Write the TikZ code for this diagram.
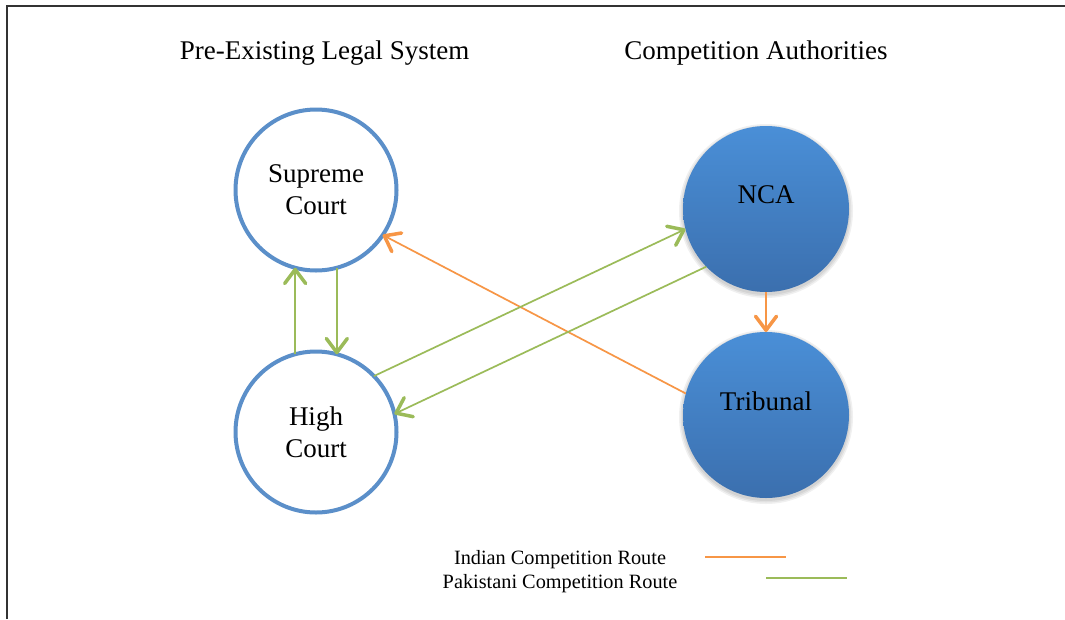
\documentclass[tikz,border=0pt]{standalone}
\usepackage{fontspec}
\setmainfont{Liberation Serif}
\usetikzlibrary{arrows.meta}
\definecolor{ringblue}{HTML}{5B8FC9}
\definecolor{fillhi}{HTML}{4A8FD7}
\definecolor{filllo}{HTML}{3B6FAE}
\definecolor{orangeroute}{HTML}{F79646}
\definecolor{greenroute}{HTML}{9BBB59}
\definecolor{framegray}{HTML}{333333}
\tikzset{
  ring/.style={circle, draw=ringblue, line width=4pt, fill=white, minimum size=161pt, inner sep=0pt, outer sep=0pt, align=center, font=\fontsize{27}{32}\selectfont},
  ball/.style={circle, draw=none, top color=fillhi, bottom color=filllo, minimum size=166pt, inner sep=0pt, outer sep=0pt, align=center, font=\fontsize{27}{32}\selectfont},
  halo/.style={fill=black, opacity=0.06},
  heading/.style={font=\fontsize{27}{32}\selectfont, inner sep=0pt},
  legendtext/.style={font=\fontsize{20.3}{24}\selectfont, inner sep=0pt},
  barb/.style={-{Straight Barb[length=14pt, width=21pt, line width=3.5pt, round]}},
  greenthick/.style={draw=greenroute, line width=2.3pt, barb},
  greenthin/.style={draw=greenroute, line width=1.7pt, barb},
  orangethick/.style={draw=orangeroute, line width=2.3pt, barb},
  orangethin/.style={draw=orangeroute, line width=1.7pt, barb},
  legendline/.style={line width=2pt}
}
\begin{document}
\begin{tikzpicture}[x=1pt,y=-1pt]
\useasboundingbox (0,0) rectangle (1065,619);
\fill[white] (0,0) rectangle (1065,619);
\draw[framegray, line width=2pt] (7,619) -- (7,6) -- (1065,6);

\node[heading] (h1) at (324.5,53) {Pre-Existing Legal System};
\node[heading] (h2) at (756,53) {Competition Authorities};

% soft shadows behind the filled circles
\foreach \c in {209,415}{
  \foreach \r in {84,85.5,87}{
    \fill[halo] (766,\c+2) circle[radius=\r];
  }
}

\node[ring] (sc) at (316,190) {Supreme\\Court};
\node[ring] (hc) at (316,432) {High\\Court};
\node[ball] (nca) at (766,209) {\raisebox{28pt}{NCA}};
\node[ball] (tr) at (766,415) {\raisebox{28pt}{Tribunal}};

\draw[greenthick] (hc.105) -- (sc.255);
\draw[greenthick] (sc.285) -- (hc.75);
\draw[orangethin] (tr.165) -- (sc.-34);
\draw[greenthin] (hc.44) -- (nca.194);
\draw[greenthin] (nca.224) -- (hc.13);
\draw[orangethick] (nca.south) -- (tr.north);

\node[legendtext] (l1) at (560,560) {Indian Competition Route};
\node[legendtext] (l2) at (560,584) {Pakistani Competition Route};
\coordinate (o1) at (705,557);
\coordinate (o2) at (786,557);
\coordinate (g1) at (766,578);
\coordinate (g2) at (847,578);
\draw[legendline, orangeroute] (o1) -- (o2);
\draw[legendline, greenroute] (g1) -- (g2);
\end{tikzpicture}
\end{document}
